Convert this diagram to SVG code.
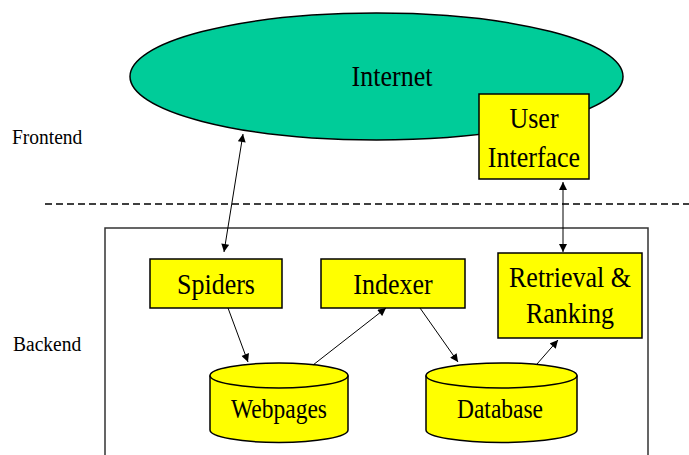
<svg xmlns="http://www.w3.org/2000/svg" width="689" height="455" viewBox="0 0 689 455">
<defs>
<marker id="ah" viewBox="0 0 10 10" refX="10" refY="5" markerWidth="9" markerHeight="8" markerUnits="userSpaceOnUse" orient="auto-start-reverse">
<path d="M0,0 L10,5 L0,10 z" fill="#000"/>
</marker>
<style>
.box{fill:#FFFF00;stroke:#000;stroke-width:1.5}
.t{fill:#000;text-anchor:middle}
.n{font-size:26px}
.c{font-size:23.5px}
.s{font-size:19.5px;text-anchor:start}
.ln{stroke:#000;stroke-width:1;fill:none;marker-end:url(#ah)}
.dbl{marker-start:url(#ah)}
</style>
</defs>
<rect width="689" height="455" fill="#fff"/>
<line x1="45" y1="204" x2="689" y2="204" stroke="#000" stroke-width="1.3" stroke-dasharray="7,4"/>
<path d="M105,455 V228 H648 V455" fill="none" stroke="#333" stroke-width="1.5"/>
<g font-family="'Liberation Serif', 'Times New Roman', 'DejaVu Serif', serif">
<g id="frontend-label"><text class="t s" transform="translate(12,144) scale(1,1.12)">Frontend</text></g>
<g id="backend-label"><text class="t s" transform="translate(13,351) scale(1,1.12)">Backend</text></g>
<g id="internet">
<ellipse cx="376.5" cy="76.5" rx="246.5" ry="63.5" fill="#00CC99" stroke="#000" stroke-width="1.5"/>
<text class="t n" transform="translate(392,86) scale(1,1.12)">Internet</text>
</g>
<g id="user-interface">
<rect class="box" x="479" y="94" width="110" height="85"/>
<text class="t n" transform="translate(534,128) scale(1,1.12)">User</text>
<text class="t n" transform="translate(534,167) scale(1,1.12)">Interface</text>
</g>
<g id="spiders">
<rect class="box" x="150" y="259" width="132" height="49"/>
<text class="t n" transform="translate(216,294) scale(1,1.12)">Spiders</text>
</g>
<g id="indexer">
<rect class="box" x="321" y="259" width="144" height="49"/>
<text class="t n" transform="translate(393,294) scale(1,1.12)">Indexer</text>
</g>
<g id="retrieval-ranking">
<rect class="box" x="498" y="253" width="144" height="85"/>
<text class="t n" transform="translate(570,287) scale(1,1.12)">Retrieval &amp;</text>
<text class="t n" transform="translate(570,323) scale(1,1.12)">Ranking</text>
</g>
<g id="webpages">
<path class="box" d="M210,375.5 V430 A69,12.5 0 0 0 348,430 V375.5 A69,12.5 0 0 0 210,375.5 Z"/>
<path d="M210,375.5 A69,12.5 0 0 0 348,375.5" fill="none" stroke="#000" stroke-width="1.5"/>
<text class="t c" transform="translate(279,418) scale(1,1.12)">Webpages</text>
</g>
<g id="database">
<path class="box" d="M426,375.5 V430 A75.5,12.5 0 0 0 577,430 V375.5 A75.5,12.5 0 0 0 426,375.5 Z"/>
<path d="M426,375.5 A75.5,12.5 0 0 0 577,375.5" fill="none" stroke="#000" stroke-width="1.5"/>
<text class="t c" transform="translate(500,418) scale(1,1.12)">Database</text>
</g>
</g>
<g id="connectors">
<line class="ln dbl" x1="243" y1="134" x2="224" y2="252"/>
<line class="ln dbl" x1="563" y1="182" x2="563" y2="252"/>
<line class="ln" x1="228" y1="308" x2="248" y2="362"/>
<line class="ln" x1="313" y1="365" x2="386" y2="308"/>
<line class="ln" x1="420" y1="308" x2="458" y2="362"/>
<line class="ln" x1="537" y1="364" x2="558" y2="340"/>
</g>
</svg>
